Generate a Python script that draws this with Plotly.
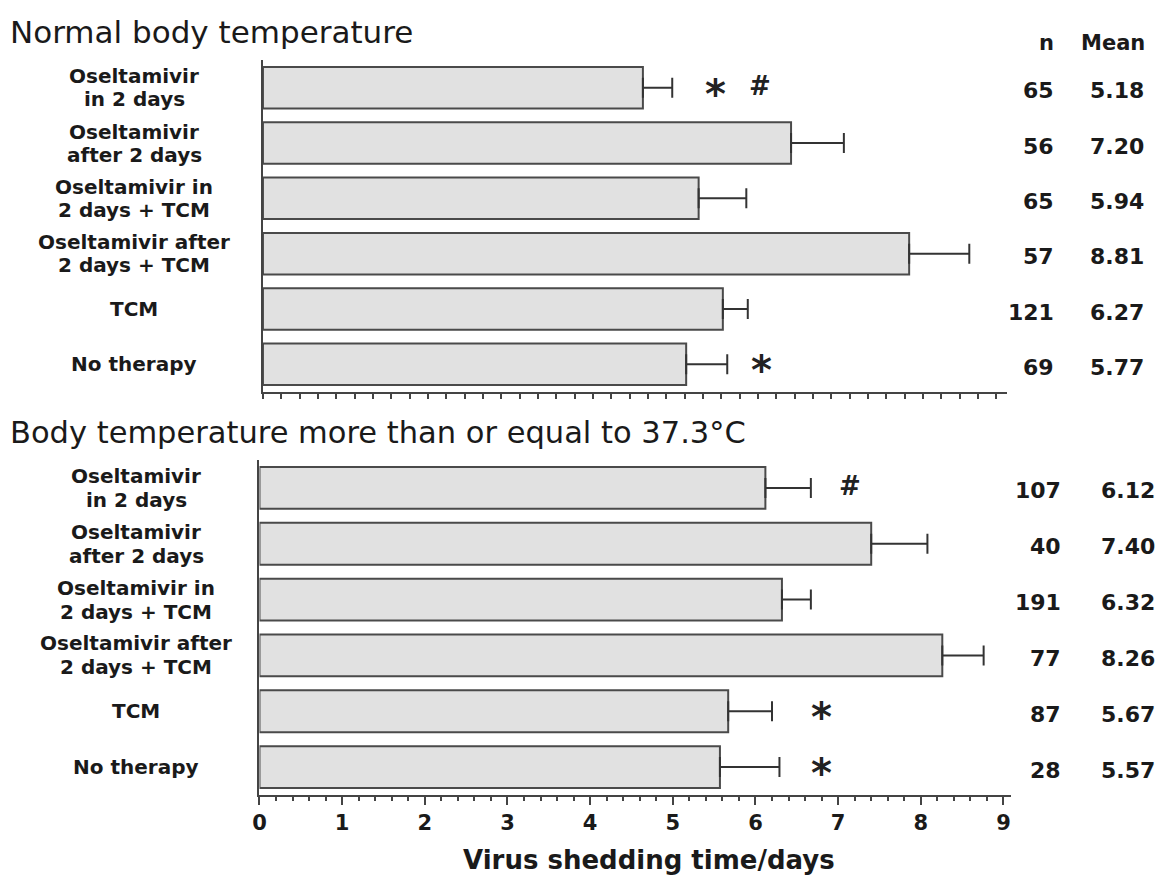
import plotly.graph_objects as go

# ---------------- data ----------------
categories = [
    "Oseltamivir in 2 days",
    "Oseltamivir after 2 days",
    "Oseltamivir in 2 days + TCM",
    "Oseltamivir after 2 days + TCM",
    "TCM",
    "No therapy",
]
label_lines = [
    ["Oseltamivir", "in 2 days"],
    ["Oseltamivir", "after 2 days"],
    ["Oseltamivir in", "2 days + TCM"],
    ["Oseltamivir after", "2 days + TCM"],
    ["TCM"],
    ["No therapy"],
]

normal_n = [65, 56, 65, 57, 121, 69]
normal_mean = [5.18, 7.20, 5.94, 8.81, 6.27, 5.77]
normal_err = [0.40, 0.72, 0.65, 0.82, 0.34, 0.56]
normal_marks = [("Oseltamivir in 2 days", "*", 6.17),
                ("Oseltamivir in 2 days", "#", 6.77),
                ("No therapy", "*", 6.80)]

fever_n = [107, 40, 191, 77, 87, 28]
fever_mean = [6.12, 7.40, 6.32, 8.26, 5.67, 5.57]
fever_err = [0.55, 0.68, 0.35, 0.50, 0.53, 0.72]
fever_marks = [("Oseltamivir in 2 days", "#", 7.14),
               ("TCM", "*", 6.80),
               ("No therapy", "*", 6.80)]

title_top = "Normal body temperature"
title_bottom = "Body temperature more than or equal to 37.3°C"
x_title = "Virus shedding time/days"
top_axis_max = 10.15
bottom_axis_max = 9.09

# ---------------- layout helpers ----------------
W, H = 1162, 875


def px(x):
    return x / W


def py(y):
    return 1 - y / H


AX = "#444444"
TXT = "#1a1a1a"
BOLD = dict(family="DejaVu Sans", weight="bold", color=TXT)

fig = go.Figure()

for mean, err, xa, ya in [(normal_mean, normal_err, "x", "y"),
                          (fever_mean, fever_err, "x2", "y2")]:
    fig.add_trace(go.Bar(
        x=mean, y=categories, orientation="h", xaxis=xa, yaxis=ya,
        width=0.75,
        marker=dict(color="#e1e1e1", line=dict(color="#4a4a4a", width=2)),
        error_x=dict(type="data", symmetric=False, array=err,
                     arrayminus=[0] * len(err), color="#333333",
                     thickness=2, width=10),
        showlegend=False, hoverinfo="x+y",
    ))

ann = []
# category labels (two text lines each where needed)
for yref, cx, gap, fsize in [("y", 128, 11.5, 20), ("y2", 130, 12, 20)]:
    for cat, lines in zip(categories, label_lines):
        shifts = [0] if len(lines) == 1 else [gap, -gap]
        for line, sh in zip(lines, shifts):
            ann.append(dict(xref="paper", yref=yref, x=px(cx), y=cat,
                            text=line, showarrow=False, xanchor="center",
                            yanchor="middle", yshift=sh, borderpad=0,
                            font=dict(size=fsize, **BOLD)))

# n / mean columns
for yref, nvals, mvals, nx, mx in [("y", normal_n, normal_mean, 1055, 1146),
                                   ("y2", fever_n, fever_mean, 1062, 1157)]:
    for cat, nv, mv in zip(categories, nvals, mvals):
        ann.append(dict(xref="paper", yref=yref, x=px(nx), y=cat, text=str(nv),
                        showarrow=False, xanchor="right", yanchor="middle",
                        yshift=-3, font=dict(size=22, **BOLD)))
        ann.append(dict(xref="paper", yref=yref, x=px(mx), y=cat, text=f"{mv:.2f}",
                        showarrow=False, xanchor="right", yanchor="middle",
                        yshift=-3, font=dict(size=22, **BOLD)))

ann.append(dict(xref="paper", yref="paper", x=px(1055), y=py(43), text="n",
                showarrow=False, xanchor="right", yanchor="middle",
                font=dict(size=21, **BOLD)))
ann.append(dict(xref="paper", yref="paper", x=px(1147), y=py(43), text="Mean",
                showarrow=False, xanchor="right", yanchor="middle",
                font=dict(size=21, **BOLD)))

# significance marks
for xref, yref, marks in [("x", "y", normal_marks), ("x2", "y2", fever_marks)]:
    for cat, sym, xv in marks:
        if sym == "*":
            f = dict(family="DejaVu Sans", size=40, weight="bold", color="#222222")
            ys = -6
        else:
            f = dict(family="DejaVu Sans", size=26, weight="bold", color="#222222")
            ys = 2
        ann.append(dict(xref=xref, yref=yref, x=xv, y=cat, text=sym,
                        showarrow=False, xanchor="center", yanchor="middle",
                        yshift=ys, font=f))

# titles
ann.append(dict(xref="paper", yref="paper", x=px(1), y=py(32), text=title_top,
                showarrow=False, xanchor="left", yanchor="middle",
                font=dict(family="DejaVu Sans", size=31, color=TXT)))
ann.append(dict(xref="paper", yref="paper", x=px(1), y=py(432), text=title_bottom,
                showarrow=False, xanchor="left", yanchor="middle",
                font=dict(family="DejaVu Sans", size=30.5, color=TXT)))
ann.append(dict(xref="paper", yref="paper", x=px(646), y=py(860), text=x_title,
                showarrow=False, xanchor="center", yanchor="middle",
                borderpad=0, font=dict(size=26, **BOLD)))

yaxis_common = dict(type="category", range=[5.5, -0.5], showline=True,
                    linewidth=2, linecolor=AX, ticks="", showticklabels=False,
                    showgrid=False, zeroline=False, fixedrange=True)

fig.update_layout(
    width=W, height=H,
    margin=dict(l=0, r=0, t=0, b=0),
    paper_bgcolor="white", plot_bgcolor="white",
    xaxis=dict(domain=[px(257.5), px(1006.5)], anchor="y",
               range=[0, top_axis_max], tickmode="linear", tick0=0, dtick=0.25,
               ticks="outside", ticklen=5, tickwidth=1.5, tickcolor=AX,
               showticklabels=False, showline=True, linewidth=2, linecolor=AX,
               showgrid=False, zeroline=False),
    yaxis=dict(domain=[py(392), py(60)], anchor="x", **yaxis_common),
    xaxis2=dict(domain=[px(254), px(1010)], anchor="y2",
                range=[0, bottom_axis_max], tickmode="linear", tick0=0, dtick=1,
                ticks="outside", ticklen=8, tickwidth=2, tickcolor=AX,
                minor=dict(dtick=0.2, tick0=0, ticks="outside", ticklen=4,
                           tickwidth=1.5, tickcolor=AX),
                tickfont=dict(size=21, **BOLD),
                showline=True, linewidth=2, linecolor=AX,
                showgrid=False, zeroline=False),
    yaxis2=dict(domain=[py(795), py(460)], anchor="x2", **yaxis_common),
    annotations=ann,
)

# remove the default page margin so the figure fills the window exactly
fig.write_html("out.html", config={"displayModeBar": False},
               post_script="document.body.style.margin='0px';")
